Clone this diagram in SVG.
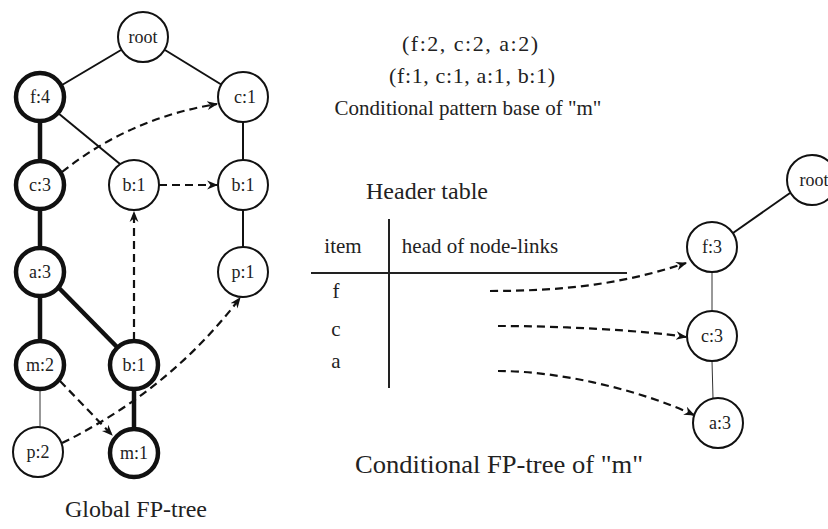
<svg xmlns="http://www.w3.org/2000/svg" width="828" height="529" viewBox="0 0 828 529" font-family="'Liberation Serif', 'DejaVu Serif', serif">
<defs>
<marker id="ah" viewBox="0 0 10 10" refX="9" refY="5" markerWidth="5" markerHeight="5" orient="auto" markerUnits="strokeWidth">
<path d="M0,1 L10,5 L0,9 L3,5 Z" fill="#111"/>
</marker>
</defs>
<style>
text{font-family:'Liberation Serif','DejaVu Serif',serif;fill:#222}
.lbl{font-size:18px;text-anchor:middle}
.cap{font-size:21px}
.big{font-size:24px}
.n circle{fill:#fff;stroke:#111;stroke-width:2}
.n.thick circle{stroke-width:4.5}
.e{stroke:#111;stroke-width:2;fill:none}
.et{stroke:#111;stroke-width:4.5;fill:none}
.eh{stroke:#333;stroke-width:1;fill:none}
.d{stroke:#111;stroke-width:2.2;fill:none;stroke-dasharray:8 5;marker-end:url(#ah)}
.rule{stroke:#222;stroke-width:2}
</style>
<rect width="828" height="529" fill="#fff"/>
<g id="connectors">
<line class="e" x1="121" y1="50" x2="62" y2="85"/>
<line class="e" x1="165" y1="50" x2="222" y2="85"/>
<line class="et" x1="40" y1="121" x2="40" y2="161"/>
<line class="e" x1="58" y1="113" x2="120" y2="164"/>
<line class="e" x1="243" y1="122" x2="243" y2="161"/>
<line class="e" x1="243" y1="210" x2="243" y2="248"/>
<line class="et" x1="40" y1="210" x2="40" y2="248"/>
<line class="et" x1="40" y1="297" x2="40" y2="341"/>
<line class="et" x1="59" y1="288" x2="117" y2="347"/>
<line class="eh" x1="40" y1="390" x2="40" y2="428"/>
<line class="et" x1="134" y1="390" x2="134" y2="429"/>
<line class="e" x1="790" y1="193" x2="733" y2="233"/>
<line class="eh" x1="712" y1="272" x2="712" y2="311"/>
<line class="eh" x1="712" y1="361" x2="713" y2="398"/>
<path class="d" d="M62,172 Q130,118 217,104"/>
<path class="d" d="M159,185 L217,185"/>
<path class="d" d="M134,340 L134,212"/>
<path class="d" d="M60,381 L112,435"/>
<path class="d" d="M62,443 Q170,390 240,298"/>
<path class="d" d="M490,291 C560,291 620,285 686,263"/>
<path class="d" d="M498,326 C560,326 640,330 686,337"/>
<path class="d" d="M498,371 C560,371 640,390 694,415"/>
</g>
<g id="n-root" class="n"><circle cx="143" cy="37" r="25"/><text class="lbl" x="143" y="43">root</text></g>
<g id="n-f4" class="n thick"><circle cx="40" cy="97" r="24"/><text class="lbl" x="40" y="103">f:4</text></g>
<g id="n-c1" class="n"><circle cx="243" cy="97" r="25"/><text class="lbl" x="245" y="103">c:1</text></g>
<g id="n-c3" class="n thick"><circle cx="40" cy="185" r="24"/><text class="lbl" x="40" y="191">c:3</text></g>
<g id="n-b1a" class="n"><circle cx="134" cy="185" r="25"/><text class="lbl" x="134" y="191">b:1</text></g>
<g id="n-b1b" class="n"><circle cx="243" cy="185" r="25"/><text class="lbl" x="243" y="191">b:1</text></g>
<g id="n-a3" class="n thick"><circle cx="40" cy="272" r="24"/><text class="lbl" x="40" y="278">a:3</text></g>
<g id="n-p1" class="n"><circle cx="243" cy="272" r="25"/><text class="lbl" x="243" y="278">p:1</text></g>
<g id="n-m2" class="n thick"><circle cx="40" cy="365" r="24"/><text class="lbl" x="40" y="371">m:2</text></g>
<g id="n-b1c" class="n thick"><circle cx="134" cy="365" r="24"/><text class="lbl" x="134" y="371">b:1</text></g>
<g id="n-p2" class="n"><circle cx="38" cy="452" r="25"/><text class="lbl" x="38" y="458">p:2</text></g>
<g id="n-m1" class="n thick"><circle cx="134" cy="453" r="24"/><text class="lbl" x="134" y="459">m:1</text></g>
<g id="n-root2" class="n"><circle cx="812" cy="180" r="25"/><text class="lbl" x="814" y="186">root</text></g>
<g id="n-f3" class="n"><circle cx="712" cy="247" r="25"/><text class="lbl" x="712" y="253">f:3</text></g>
<g id="n-c3b" class="n"><circle cx="712" cy="336" r="25"/><text class="lbl" x="712" y="342">c:3</text></g>
<g id="n-a3b" class="n"><circle cx="718" cy="423" r="25"/><text class="lbl" x="720" y="429">a:3</text></g>
<g id="header-table">
<line class="rule" x1="389" y1="219" x2="389" y2="388"/>
<line class="rule" x1="311" y1="273" x2="627" y2="273"/>
<text x="427" y="199" class="big" text-anchor="middle">Header table</text>
<text x="343" y="253" class="cap" text-anchor="middle">item</text>
<text x="480" y="253" class="cap" text-anchor="middle">head of node-links</text>
<text x="336" y="298" class="cap" text-anchor="middle">f</text>
<text x="336" y="336" class="cap" text-anchor="middle">c</text>
<text x="336" y="368" class="cap" text-anchor="middle">a</text>
</g>
<g id="labels">
<text x="402" y="51" font-size="22" textLength="136" lengthAdjust="spacing">(f:2, c:2, a:2)</text>
<text x="389" y="83" font-size="22" textLength="166" lengthAdjust="spacing">(f:1, c:1, a:1, b:1)</text>
<text x="468" y="115" class="cap" text-anchor="middle">Conditional pattern base of "m"</text>
<text x="355" y="473" font-size="25" textLength="288" lengthAdjust="spacingAndGlyphs">Conditional FP-tree of "m"</text>
<text x="136" y="517" class="big" text-anchor="middle">Global FP-tree</text>
</g>
</svg>
